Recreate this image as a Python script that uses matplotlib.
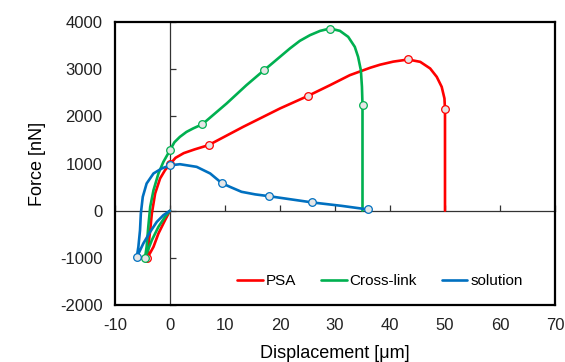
import matplotlib
matplotlib.use("Agg")
import matplotlib.pyplot as plt

plt.rcParams['font.family'] = ['Liberation Sans', 'DejaVu Sans']
plt.rcParams['axes.unicode_minus'] = False

# ---- data ----
# PSA (red): loop (0,0) -> min -> up to (0,~1000) -> main curve -> drop to 0
psa_x = [0, -0.9, -2.1, -3.0, -4.1, -3.95, -3.6, -3.3, -2.7, -1.8, -0.9, 0,
         1.0, 2.5, 4.5, 7.0, 13.3, 20.0, 25.1, 29.1, 32.7, 36.4, 38.2, 40.6,
         43.3, 45.5, 47.3, 48.5, 49.4, 49.9, 50.0, 50.0]
psa_y = [0, -201, -484, -767, -1000, -767, -413, -60, 365, 683, 859, 985,
         1120, 1220, 1300, 1389, 1777, 2167, 2434, 2661, 2873, 3030, 3095, 3160,
         3205, 3155, 3015, 2837, 2625, 2379, 2145, 0]
psa_mx = [-4.1, 0, 7.0, 25.1, 43.3, 50.0]
psa_my = [-1000, 985, 1389, 2434, 3205, 2145]

# Cross-link (green)
cl_x = [0, -0.9, -2.1, -3.3, -4.55, -4.25, -3.95, -3.6, -3.0, -2.1, -1.2, 0,
        0.8, 1.8, 3.0, 4.2, 5.9, 10.3, 13.9, 17.1, 18.2, 21.8, 23.6, 25.45,
        27.3, 29.1, 30.9, 32.4, 33.6, 34.2, 34.7, 34.9, 35.0, 35.0]
cl_y = [0, -131, -343, -625, -1000, -767, -343, 81, 435, 789, 1035, 1283,
        1450, 1565, 1670, 1743, 1834, 2273, 2661, 2979, 3085, 3439, 3600, 3721,
        3812, 3862, 3812, 3685, 3473, 3261, 2979, 2625, 2237, 0]
cl_mx = [-4.55, 0, 5.9, 17.1, 29.1, 35.0]
cl_my = [-1000, 1283, 1834, 2979, 3862, 2237]

# solution (blue)
sol_x = [0, -1.2, -2.4, -3.6, -4.85, -6.05, -5.75, -5.45, -5.3, -4.95, -4.25,
         -3.0, -1.5, 0, 1.8, 4.85, 7.3, 9.4, 10.9, 13.0, 15.5, 18.0, 25.9,
         31.2, 36.05]
sol_y = [0, -95, -237, -449, -695, -990, -767, -413, -60, 293, 576,
         789, 895, 960, 985, 929, 789, 585, 505, 400, 345, 307, 174,
         102, 25]
sol_mx = [-6.05, 0, 9.4, 18.0, 25.9, 36.05]
sol_my = [-990, 960, 585, 307, 174, 25]

series = [("PSA", psa_x, psa_y, psa_mx, psa_my, "#FF0000"),
          ("Cross-link", cl_x, cl_y, cl_mx, cl_my, "#00B050"),
          ("solution", sol_x, sol_y, sol_mx, sol_my, "#0070C0")]

x_ticks = [-10, 0, 10, 20, 30, 40, 50, 60, 70]
y_ticks = [-2000, -1000, 0, 1000, 2000, 3000, 4000]

fig = plt.figure(figsize=(5.65, 3.62), dpi=100)
pos = [115 / 565, 57 / 362, 440 / 565, 283 / 362]
ax = fig.add_axes(pos)

for name, x, y, mx, my, c in series:
    ax.plot(x, y, color=c, lw=1.9, label=name, solid_capstyle='round',
            solid_joinstyle='round', zorder=3)
    ax.plot(mx, my, ls='none', marker='o', ms=5.5, mfc='#E6E6E6',
            mec=c, mew=0.9, zorder=4)

ax.set_xlim(-10, 70)
ax.set_ylim(-2000, 4000)
ax.set_xticks(x_ticks)
ax.set_yticks(y_ticks)
ax.tick_params(length=0, labelsize=12, pad=9, colors='#222222')
for s in ax.spines.values():
    s.set_linewidth(1.6)
    s.set_color('black')

ax.set_xlabel("Displacement [μm]", fontsize=13, labelpad=9)
ax.set_ylabel("Force [nN]", fontsize=13, labelpad=10)

# zero axes with inward ticks
ax2 = fig.add_axes(pos, sharex=ax, sharey=ax)
ax2.patch.set_visible(False)
ax2.spines['top'].set_visible(False)
ax2.spines['right'].set_visible(False)
ax2.spines['left'].set_position(('data', 0))
ax2.spines['bottom'].set_position(('data', 0))
for k in ('left', 'bottom'):
    ax2.spines[k].set_linewidth(0.9)
    ax2.spines[k].set_color('#333333')
ax2.tick_params(direction='in', length=4, width=0.9, color='#333333',
                labelleft=False, labelbottom=False)
ax2.set_zorder(0)
ax.set_zorder(1)
ax.patch.set_visible(False)

leg = ax.legend(ncol=3, loc='center', bbox_to_anchor=(0.602, 0.085),
                frameon=False, fontsize=11, handlelength=1.7,
                handletextpad=0.2, columnspacing=1.6, borderpad=0)

fig.savefig("out.png", dpi=100)
